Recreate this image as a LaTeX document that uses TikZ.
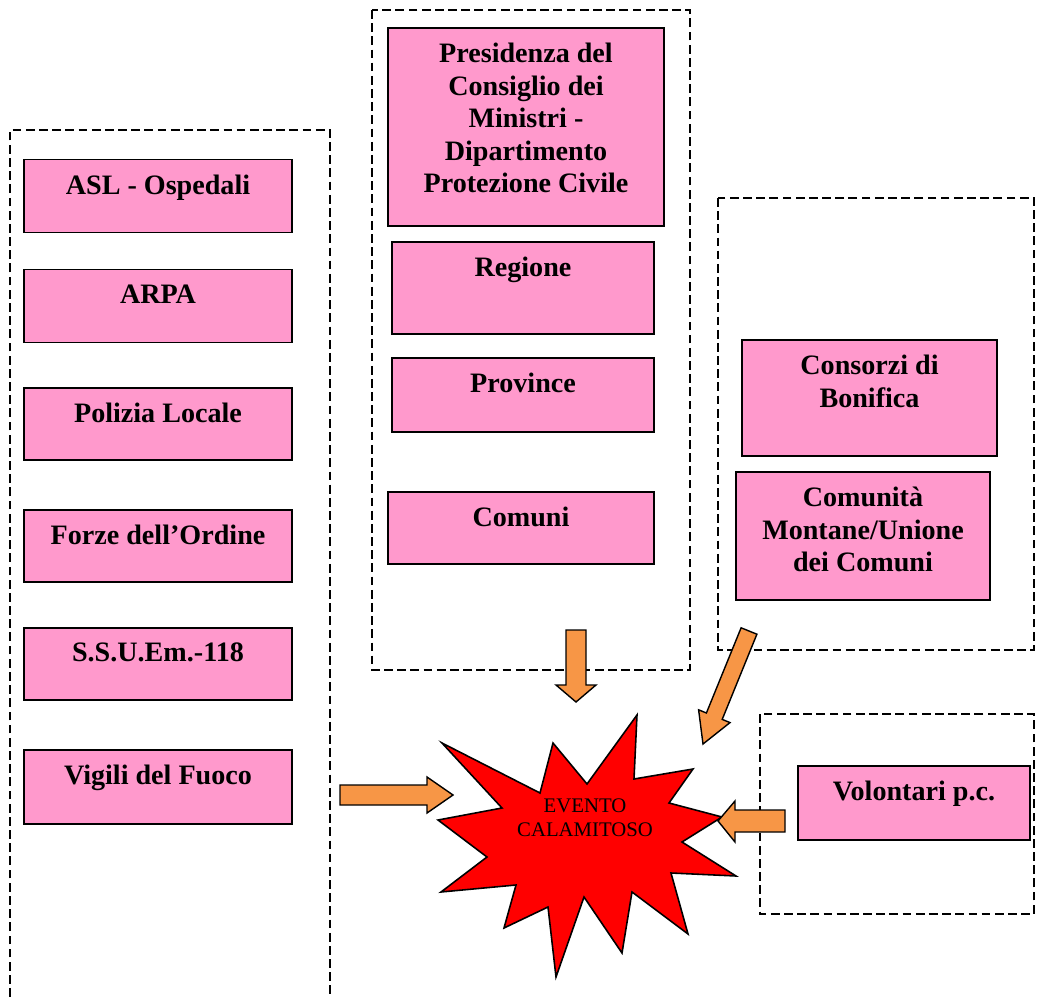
\documentclass[tikz,border=0pt]{standalone}
\usepackage{fontspec}
\setmainfont{Liberation Serif}
\definecolor{rosa}{RGB}{255,153,204}
\definecolor{arancio}{RGB}{247,150,70}
\tikzset{
    gruppo/.style={draw=black, line width=0.7pt, dash pattern=on 5pt off 2.5pt},
    ente/.style={draw=black, line width=0.8pt, fill=rosa},
    testo/.style={font=\fontsize{16}{18.5}\selectfont\bfseries, align=center, anchor=north, yshift=-5.5pt},
    freccia/.style={draw=black, line width=0.8pt, fill=arancio, line join=miter},
}
\begin{document}
\begin{tikzpicture}[x=0.02cm, y=-0.02cm]
                \useasboundingbox (0,0) rectangle (1038,997);
                % gruppi tratteggiati
                \draw[gruppo] (10,997) -- (10,130) -- (330,130) -- (330,997);
                \draw[gruppo] (372,10) rectangle (690,670);
                \draw[gruppo] (718,198) rectangle (1034,650);
                \draw[gruppo] (760,714) rectangle (1034,914);
                % colonna sinistra
                \node[ente, minimum width=5.36cm, minimum height=1.46cm, label={[testo]north:{ASL - Ospedali}}] (asl) at (158,196) {};
                \node[ente, minimum width=5.36cm, minimum height=1.46cm, label={[testo]north:{ARPA}}] (arpa) at (158,306) {};
                \node[ente, minimum width=5.36cm, minimum height=1.44cm, label={[testo]north:{Polizia Locale}}] (polizia) at (158,424) {};
                \node[ente, minimum width=5.36cm, minimum height=1.44cm, label={[testo]north:{Forze dell'Ordine}}] (forze) at (158,546) {};
                \node[ente, minimum width=5.36cm, minimum height=1.44cm, label={[testo]north:{S.S.U.Em.-118}}] (ssuem) at (158,664) {};
                \node[ente, minimum width=5.36cm, minimum height=1.48cm, label={[testo]north:{Vigili del Fuoco}}] (vigili) at (158,787) {};
                % colonna centrale
                \node[ente, minimum width=5.52cm, minimum height=3.96cm, label={[testo]north:{Presidenza del\\Consiglio dei\\Ministri -\\Dipartimento\\Protezione Civile}}] (presidenza) at (526,127) {};
                \node[ente, minimum width=5.24cm, minimum height=1.84cm, label={[testo]north:{Regione}}] (regione) at (523,288) {};
                \node[ente, minimum width=5.24cm, minimum height=1.48cm, label={[testo]north:{Province}}] (province) at (523,395) {};
                \node[ente, minimum width=5.32cm, minimum height=1.44cm, label={[testo]north:{Comuni}}] (comuni) at (521,528) {};
                % colonna destra
                \node[ente, minimum width=5.1cm, minimum height=2.32cm, label={[testo]north:{Consorzi di\\Bonifica}}] (consorzi) at (869.5,398) {};
                \node[ente, minimum width=5.08cm, minimum height=2.56cm, label={[testo]north:{Comunità\\Montane/Unione\\dei Comuni}}] (comunita) at (863,536) {};
                \node[ente, minimum width=4.64cm, minimum height=1.48cm, label={[testo]north:{Volontari p.c.}}] (volontari) at (914,803) {};
                % evento
                \filldraw[draw=black, line width=0.9pt, fill=red, line join=miter]
                    (442,743) -- (540,793) -- (553,743) -- (587,784) -- (637,715) -- (634,779)
                    -- (693,769) -- (669,803) -- (722,817) -- (682,842) -- (736,876) -- (671,873)
                    -- (688,934) -- (632,892) -- (622,953) -- (584,897) -- (556,977) -- (548,907)
                    -- (504,928) -- (516,885) -- (441,892) -- (487,857) -- (438,820) -- (502,808) -- cycle;
                \node[font=\fontsize{11.8}{13.6}\selectfont, align=center, inner sep=0pt] (evento) at (585,818) {EVENTO\\CALAMITOSO};
                % frecce
                \draw[freccia] (566,630) -- (586,630) -- (586,685) -- (596,685) -- (576,702) -- (556,685) -- (566,685) -- cycle;
                \draw[freccia] (741.1,627.8) -- (756.9,634.2) -- (722.2,719.4) -- (730,722.6) -- (703,744) -- (698.6,709.8) -- (706.4,713) -- cycle;
                \draw[freccia] (340,785) -- (427,785) -- (427,777) -- (453,795) -- (427,813) -- (427,805) -- (340,805) -- cycle;
                \draw[freccia] (785,810) -- (735,810) -- (735,801) -- (718,821) -- (735,842) -- (735,832) -- (785,832) -- cycle;
\end{tikzpicture}
\end{document}
